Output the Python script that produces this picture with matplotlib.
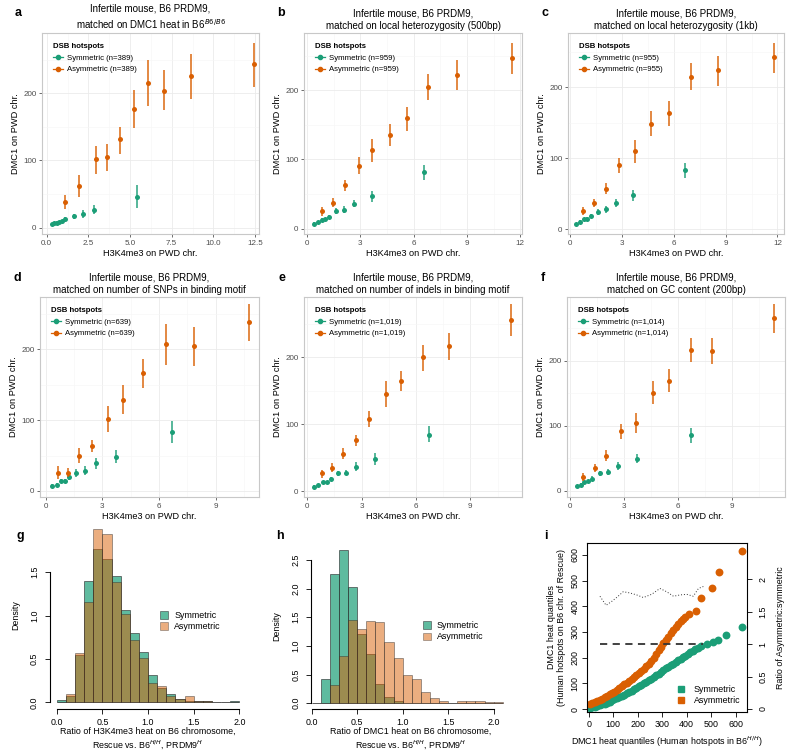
import numpy as np
import matplotlib
matplotlib.use("Agg")
import matplotlib.pyplot as plt
from matplotlib.lines import Line2D
from matplotlib.patches import Patch
from matplotlib.ticker import MultipleLocator

plt.rcParams["font.family"] = ["Liberation Sans", "DejaVu Sans"]

VERT = "#1B9E77"
ORANGE = "#D95F02"

# ---------------------------------------------------------------
# panneaux a-f : moyennes +/- intervalles, 10 classes de H3K4me3
# ---------------------------------------------------------------
A_SYM_X = [0.3, 0.45, 0.6, 0.75, 0.9, 1.1, 1.65, 2.15, 2.85, 5.4]
A_SYM_Y = [5, 6.5, 7.5, 8.5, 10, 13, 17, 20, 26, 46]
A_SYM_LO = [3, 4.5, 5.5, 6.5, 8, 10, 13, 14, 20, 30]
A_SYM_HI = [7, 8.5, 9.5, 10.5, 12, 16, 21, 27, 34, 63]
A_ASY_X = [1.09, 1.93, 2.93, 3.59, 4.41, 5.25, 6.05, 7.05, 8.67, 12.42]
A_ASY_Y = [38, 62, 102, 105, 132, 176, 215, 204, 225, 244]
A_ASY_LO = [28, 46, 80, 85, 109, 149, 181, 175, 192, 210]
A_ASY_HI = [48, 78, 122, 124, 150, 205, 249, 234, 259, 275]

B_SYM_X = [0.41, 0.64, 0.83, 1.01, 1.26, 1.63, 2.10, 2.66, 3.68, 6.57]
B_SYM_Y = [6.7, 9.2, 12.5, 13.5, 17.3, 25, 27.5, 36, 47, 82]
B_SYM_LO = [4.5, 7, 10, 11, 14.5, 20.5, 22.5, 31, 39, 70]
B_SYM_HI = [9, 11.5, 15, 16, 20, 29.5, 32.5, 41, 55, 92]
B_ASY_X = [0.83, 1.48, 2.14, 2.95, 3.68, 4.65, 5.65, 6.83, 8.46, 11.52]
B_ASY_Y = [25, 37, 63, 91, 113, 135, 160, 205, 222, 246]
B_ASY_LO = [18, 31, 55, 79, 96, 119, 141, 186, 200, 224]
B_ASY_HI = [32, 44, 70, 104, 129, 152, 176, 224, 244, 269]

C_SYM_X = [0.35, 0.58, 0.79, 0.97, 1.22, 1.60, 2.07, 2.66, 3.63, 6.64]
C_SYM_Y = [7.5, 9.9, 14, 14.6, 18.3, 24.9, 28.2, 37, 49, 83]
C_SYM_LO = [5.5, 7.5, 11.5, 12, 15.5, 20.5, 23.5, 32, 40, 72]
C_SYM_HI = [9.5, 12.5, 16.5, 17, 21, 29, 33, 42, 56, 93]
C_ASY_X = [0.73, 1.39, 2.07, 2.86, 3.76, 4.69, 5.71, 6.99, 8.55, 11.78]
C_ASY_Y = [26, 37, 57, 91, 110, 149, 164, 215, 224, 242]
C_ASY_LO = [20, 31, 50, 80, 93, 131, 146, 196, 202, 220]
C_ASY_HI = [32, 43, 65, 100, 126, 167, 181, 234, 244, 263]

D_SYM_X = [0.32, 0.62, 0.81, 1.02, 1.22, 1.60, 2.06, 2.66, 3.72, 6.67]
D_SYM_Y = [7.2, 8.6, 13.9, 14.4, 19.6, 25.4, 28.7, 39, 48, 83]
D_SYM_LO = [5, 6, 11, 11.5, 15, 20, 23, 31, 39, 67]
D_SYM_HI = [9.5, 11, 16.5, 17, 24, 31, 35, 47, 58, 99]
D_ASY_X = [0.67, 1.16, 1.78, 2.45, 3.30, 4.11, 5.13, 6.35, 7.85, 10.74]
D_ASY_Y = [26, 26, 50, 64, 101, 129, 166, 207, 204, 238]
D_ASY_LO = [17, 20, 40, 55, 83, 109, 145, 178, 176, 211]
D_ASY_HI = [35, 32, 61, 72, 120, 150, 186, 235, 231, 264]

E_SYM_X = [0.37, 0.61, 0.85, 1.07, 1.29, 1.69, 2.12, 2.67, 3.76, 6.73]
E_SYM_Y = [7, 9, 13.5, 13.5, 18, 27, 28, 37, 48, 84]
E_SYM_LO = [5, 7, 11, 11, 15, 23, 24, 31, 40, 73]
E_SYM_HI = [9, 11, 16, 16, 21, 31, 32, 44, 57, 97]
E_ASY_X = [0.79, 1.34, 1.97, 2.67, 3.40, 4.34, 5.20, 6.40, 7.83, 11.27]
E_ASY_Y = [27, 35, 56, 76, 108, 145, 164, 200, 217, 256]
E_ASY_LO = [20, 29, 48, 67, 96, 126, 149, 180, 196, 232]
E_ASY_HI = [32, 42, 64, 84, 120, 164, 179, 218, 237, 279]

F_SYM_X = [0.36, 0.6, 0.8, 1.0, 1.21, 1.68, 2.10, 2.66, 3.72, 6.74]
F_SYM_Y = [7, 9.5, 13, 14.5, 18.5, 26.7, 28, 38, 49, 85]
F_SYM_LO = [5, 7.5, 10.5, 12, 15, 22, 23.5, 32, 42, 73]
F_SYM_HI = [9, 11.5, 15.5, 17, 22, 31, 33, 44, 56, 97]
F_ASY_X = [0.74, 1.38, 1.99, 2.83, 3.67, 4.62, 5.51, 6.70, 7.91, 11.36]
F_ASY_Y = [20.5, 35, 54, 92, 104, 151, 169, 217, 215, 266]
F_ASY_LO = [15, 28, 46, 80, 88, 133, 152, 198, 195, 243]
F_ASY_HI = [27, 41, 62, 103, 120, 168, 187, 235, 235, 287]

TITRES = [
    "Infertile mouse, B6 PRDM9,\nmatched on DMC1 heat in B6$^{B6/B6}$",
    "Infertile mouse, B6 PRDM9,\nmatched on local heterozygosity (500bp)",
    "Infertile mouse, B6 PRDM9,\nmatched on local heterozygosity (1kb)",
    "Infertile mouse, B6 PRDM9,\nmatched on number of SNPs in binding motif",
    "Infertile mouse, B6 PRDM9,\nmatched on number of indels in binding motif",
    "Infertile mouse, B6 PRDM9,\nmatched on GC content (200bp)",
]
EFFECTIFS = ["389", "959", "955", "639", "1,019", "1,014"]

# ---------------------------------------------------------------
# panneaux g-h : histogrammes (densite, classes de 0.1)
# ---------------------------------------------------------------
G_BORDS = [0.0, 0.1, 0.2, 0.3, 0.4, 0.5, 0.6, 0.7, 0.8, 0.9, 1.0,
           1.1, 1.2, 1.3, 1.4, 1.5, 1.6, 1.7, 1.8, 1.9]
G_SYM = [0.023, 0.075, 0.54, 1.40, 1.765, 1.65, 1.46, 1.065, 0.80, 0.585,
         0.31, 0.17, 0.10, 0.04, 0.015, 0.01, 0.01, 0, 0, 0.012]
G_ASY = [0, 0.092, 0.565, 1.16, 2.0, 1.94, 1.38, 1.015, 0.72, 0.515,
         0.22, 0.19, 0.07, 0.04, 0.07, 0.01, 0.01, 0, 0, 0]

H_BORDS = [0.0, 0.1, 0.2, 0.3, 0.4, 0.5, 0.6, 0.7, 0.8, 0.9, 1.0,
           1.1, 1.2, 1.3, 1.4, 1.5, 1.6, 1.7, 1.8, 1.9, 2.0]
H_SYM = [0, 0.42, 2.25, 2.68, 2.02, 1.21, 0.86, 0.33, 0.10, 0.035, 0.01,
         0, 0, 0, 0, 0, 0, 0, 0, 0, 0]
H_ASY = [0, 0, 0.31, 0.82, 1.46, 1.30, 1.44, 1.42, 1.07, 0.79, 0.49,
         0.42, 0.19, 0.09, 0.04, 0, 0.035, 0.035, 0.035, 0.012, 0.012]

# ---------------------------------------------------------------
# panneau i : quantiles + ratio
# ---------------------------------------------------------------
I_SYM_X = [5, 15, 25, 35, 45, 55, 65, 75, 85, 95, 105, 115, 125, 135, 145,
           155, 165, 175, 185, 195, 205, 215, 225, 235, 245, 255, 265, 275,
           285, 295, 305, 315, 325, 335, 345, 355, 365, 375, 385, 395, 405,
           415, 425, 435, 445, 460, 482, 506, 527, 559, 626]
I_SYM_Y = [3, 6, 9, 12, 15, 18, 21, 25, 29, 34, 38, 43, 47, 52, 56, 61, 66,
           71, 76, 82, 88, 94, 100, 106, 112, 118, 124, 131, 138, 144, 151,
           158, 164, 171, 177, 183, 189, 196, 202, 208, 214, 220, 226, 232,
           238, 245, 252, 262, 267, 290, 321]
I_ASY_X = [5, 15, 25, 35, 45, 55, 65, 75, 85, 95, 105, 115, 125, 135, 145,
           155, 165, 175, 185, 195, 205, 215, 225, 235, 245, 255, 265, 275,
           285, 295, 305, 315, 325, 335, 345, 355, 365, 375, 385, 395, 410,
           440, 458, 502, 531, 626]
I_ASY_Y = [18, 22, 26, 30, 35, 40, 45, 51, 57, 62, 68, 75, 82, 89, 96, 103,
           110, 117, 124, 131, 139, 148, 157, 166, 176, 188, 200, 214, 228,
           243, 257, 268, 280, 294, 306, 318, 330, 341, 351, 360, 368, 380,
           432, 472, 532, 615]
RATIO_X = [46, 71, 94, 117, 141, 169, 196, 223, 257, 291, 318, 346, 373,
           400, 427, 448, 468]
RATIO_Y = [1.74, 1.60, 1.66, 1.73, 1.81, 1.79, 1.76, 1.72, 1.77, 1.86,
           1.81, 1.74, 1.76, 1.77, 1.74, 1.86, 1.89]
RATIO_REF = 1.0

L, H = 800, 754
FS_BASE = 6.4   # texte des panneaux g-i (style R base)


def axes_px(fig, gauche, droite, haut, bas):
    return fig.add_axes([gauche / L, 1 - bas / H, (droite - gauche) / L, (bas - haut) / H])


def lettre(fig, x, y, txt):
    fig.text(x / L, 1 - y / H, txt, fontsize=9, fontweight="bold", ha="center", va="center")


def panneau_gg(ax, sym, asy, n, titre, xlim, ylim, pas_x):
    ax.set_facecolor("white")
    for s in ax.spines.values():
        s.set_color("#C8C8C8")
        s.set_linewidth(0.8)
    ax.xaxis.set_major_locator(MultipleLocator(pas_x))
    ax.xaxis.set_minor_locator(MultipleLocator(pas_x / 2))
    ax.yaxis.set_major_locator(MultipleLocator(100))
    ax.yaxis.set_minor_locator(MultipleLocator(50))
    ax.grid(which="major", color="#EBEBEB", lw=0.6)
    ax.grid(which="minor", color="#F6F6F6", lw=0.4)
    ax.set_axisbelow(True)
    ax.tick_params(which="major", length=2.5, width=0.6, color="#555555",
                   labelsize=5.8, labelcolor="#4D4D4D", pad=1.5)
    ax.tick_params(which="minor", length=0)
    for (x, y, lo, hi), coul in ((sym, VERT), (asy, ORANGE)):
        x, y, lo, hi = map(np.asarray, (x, y, lo, hi))
        ax.vlines(x, lo, hi, color=coul, lw=1.3, alpha=0.8)
        ax.plot(x, y, "o", color=coul, ms=3.6, mec="none")
    ax.set_xlim(*xlim)
    ax.set_ylim(*ylim)
    ax.set_title(titre, fontsize=7.0, pad=3, linespacing=1.3)
    ax.set_xlabel("H3K4me3 on PWD chr.", fontsize=6.6, labelpad=1.5)
    ax.set_ylabel("DMC1 on PWD chr.", fontsize=6.7, labelpad=2)
    poignees = [Line2D([], [], color=VERT, marker="o", ms=3.0, lw=0.9),
                Line2D([], [], color=ORANGE, marker="o", ms=3.0, lw=0.9)]
    leg = ax.legend(poignees, [f"Symmetric (n={n})", f"Asymmetric (n={n})"],
                    title="DSB hotspots", loc="upper left", bbox_to_anchor=(0.02, 0.985),
                    fontsize=5.6, title_fontsize=5.6, frameon=False,
                    handlelength=1.3, handletextpad=0.4, labelspacing=0.55)
    leg.get_title().set_fontweight("bold")
    leg._legend_box.align = "left"


def histo_base(ax, bords, sym, asy, xlim, ylim, y_max_axe, xlab):
    ax.bar(bords, sym, width=0.1, align="edge", color=VERT, alpha=0.7,
           edgecolor="#2A2A2A", lw=0.6)
    ax.bar(bords, asy, width=0.1, align="edge", color=ORANGE, alpha=0.5,
           edgecolor="#2A2A2A", lw=0.6)
    ax.set_xlim(*xlim)
    ax.set_ylim(*ylim)
    ax.spines["top"].set_visible(False)
    ax.spines["right"].set_visible(False)
    ax.spines["left"].set_bounds(0, y_max_axe)
    ax.spines["bottom"].set_bounds(0, 2.0)
    ax.set_xticks([0.0, 0.5, 1.0, 1.5, 2.0], ["0.0", "0.5", "1.0", "1.5", "2.0"])
    yt = np.arange(0, y_max_axe + 0.01, 0.5)
    ax.set_yticks(yt, [f"{v:.1f}" for v in yt])
    ax.tick_params(length=3.5, width=0.6, labelsize=FS_BASE, pad=2.5)
    ax.tick_params(axis="y", labelrotation=90, pad=4)
    for t in ax.get_yticklabels():
        t.set_va("center")
    ax.set_ylabel("Density", fontsize=FS_BASE, labelpad=7)
    ax.set_xlabel(xlab, fontsize=FS_BASE, labelpad=0, linespacing=1.25)
    poignees = [Patch(facecolor=VERT, alpha=0.7, edgecolor="#2A2A2A", lw=0.5),
                Patch(facecolor=ORANGE, alpha=0.5, edgecolor="#2A2A2A", lw=0.5)]
    ax.legend(poignees, ["Symmetric", "Asymmetric"], loc="center left",
              bbox_to_anchor=(0.52, 0.47), frameon=False, fontsize=FS_BASE,
              handlelength=0.9, handleheight=0.9, handletextpad=0.7, labelspacing=0.25)


fig = plt.figure(figsize=(8, 7.54), dpi=100)

# ----- rangees 1 et 2 -----
panneaux = [
    ((A_SYM_X, A_SYM_Y, A_SYM_LO, A_SYM_HI), (A_ASY_X, A_ASY_Y, A_ASY_LO, A_ASY_HI),
     (42, 259, 33, 234), (-0.28, 12.74), (-9.4, 289.7), 2.5),
    ((B_SYM_X, B_SYM_Y, B_SYM_LO, B_SYM_HI), (B_ASY_X, B_ASY_Y, B_ASY_LO, B_ASY_HI),
     (304, 522, 33, 234), (-0.17, 12.09), (-7.7, 282.8), 3),
    ((C_SYM_X, C_SYM_Y, C_SYM_LO, C_SYM_HI), (C_ASY_X, C_ASY_Y, C_ASY_LO, C_ASY_HI),
     (568, 784, 33, 234), (-0.12, 12.38), (-6.6, 276.5), 3),
    ((D_SYM_X, D_SYM_Y, D_SYM_LO, D_SYM_HI), (D_ASY_X, D_ASY_Y, D_ASY_LO, D_ASY_HI),
     (40, 259, 297, 497), (-0.30, 11.29), (-8.5, 273.6), 3),
    ((E_SYM_X, E_SYM_Y, E_SYM_LO, E_SYM_HI), (E_ASY_X, E_ASY_Y, E_ASY_LO, E_ASY_HI),
     (304, 522, 297, 497), (-0.18, 11.85), (-8.5, 290), 3),
    ((F_SYM_X, F_SYM_Y, F_SYM_LO, F_SYM_HI), (F_ASY_X, F_ASY_Y, F_ASY_LO, F_ASY_HI),
     (567, 785, 297, 497), (-0.17, 11.95), (-9.7, 298), 3),
]
for i, (sym, asy, boite, xl, yl, pas) in enumerate(panneaux):
    ax = axes_px(fig, *boite)
    panneau_gg(ax, sym, asy, EFFECTIFS[i], TITRES[i], xl, yl, pas)

for (x, y, t) in [(18, 13, "a"), (281, 13, "b"), (545, 13, "c"),
                  (17, 278, "d"), (282, 278, "e"), (543, 278, "f"),
                  (20, 536, "g"), (280, 536, "h"), (546, 536, "i")]:
    lettre(fig, x, y, t)

# ----- g -----
ax_g = axes_px(fig, 49.5, 246.6, 521.7, 709.3)
histo_base(ax_g, G_BORDS, G_SYM, G_ASY, (-0.08, 2.08), (-0.08, 2.08), 1.5,
           "Ratio of H3K4me3 heat on B6 chromosome,\nRescue vs. B6$^{H/H}$, PRDM9$^{H}$")

# ----- h -----
ax_h = axes_px(fig, 310.7, 510.5, 543.3, 709.3)
histo_base(ax_h, H_BORDS, H_SYM, H_ASY, (-0.011, 2.185), (-0.107, 2.79), 2.5,
           "Ratio of DMC1 heat on B6 chromosome,\nRescue vs. B6$^{H/H}$, PRDM9$^{H}$")

# ----- i -----
ax_i = axes_px(fig, 587.3, 746.7, 543.3, 711.7)
ax_i.scatter(I_SYM_X, I_SYM_Y, s=32, color=VERT, lw=0, zorder=3)
ax_i.scatter(I_ASY_X, I_ASY_Y, s=32, color=ORANGE, lw=0, zorder=3)
ax_i.set_xlim(-5.7, 645)
ax_i.set_ylim(-10.5, 645)
ax_i.set_xticks(range(0, 601, 100))
ax_i.set_yticks(range(0, 601, 100))
ax_i.tick_params(length=3.5, width=0.6, labelsize=FS_BASE, pad=2.5)
ax_i.tick_params(axis="y", labelrotation=90, pad=2)
for t in ax_i.get_yticklabels():
    t.set_va("center")
for s in ax_i.spines.values():
    s.set_linewidth(0.7)
ax_i.set_xlabel("DMC1 heat quantiles (Human hotspots in B6$^{H/H}$)", fontsize=FS_BASE, labelpad=4)
ax_i.set_ylabel("DMC1 heat quantiles\n(Human hotspots on B6 chr. of Rescue)", fontsize=FS_BASE,
                labelpad=3, linespacing=1.25)
ax_i.legend([Line2D([], [], ls="none", marker="s", ms=5, color=VERT),
             Line2D([], [], ls="none", marker="s", ms=5, color=ORANGE)],
            ["Symmetric", "Asymmetric"], loc="lower right", frameon=False, fontsize=FS_BASE,
            handletextpad=0.5, labelspacing=0.3, borderaxespad=0.3)

ax_r = ax_i.twinx()
ax_r.plot(RATIO_X, RATIO_Y, ls=(0, (1, 2)), color="#333333", lw=0.7)
ax_r.hlines(RATIO_REF, RATIO_X[0], RATIO_X[-1], color="#333333", lw=1.3, linestyles=(0, (4, 3)))
ax_r.set_ylim(-0.042, 2.557)
ax_r.set_yticks([0, 0.5, 1, 1.5, 2], ["0", "0.5", "1", "1.5", "2"])
ax_r.tick_params(length=3.5, width=0.6, labelsize=FS_BASE, pad=5, labelrotation=90)
for t in ax_r.get_yticklabels():
    t.set_va("center")
ax_r.set_ylabel("Ratio of Asymmetric:symmetric", fontsize=FS_BASE, labelpad=6)

fig.savefig("out.png", dpi=100)
